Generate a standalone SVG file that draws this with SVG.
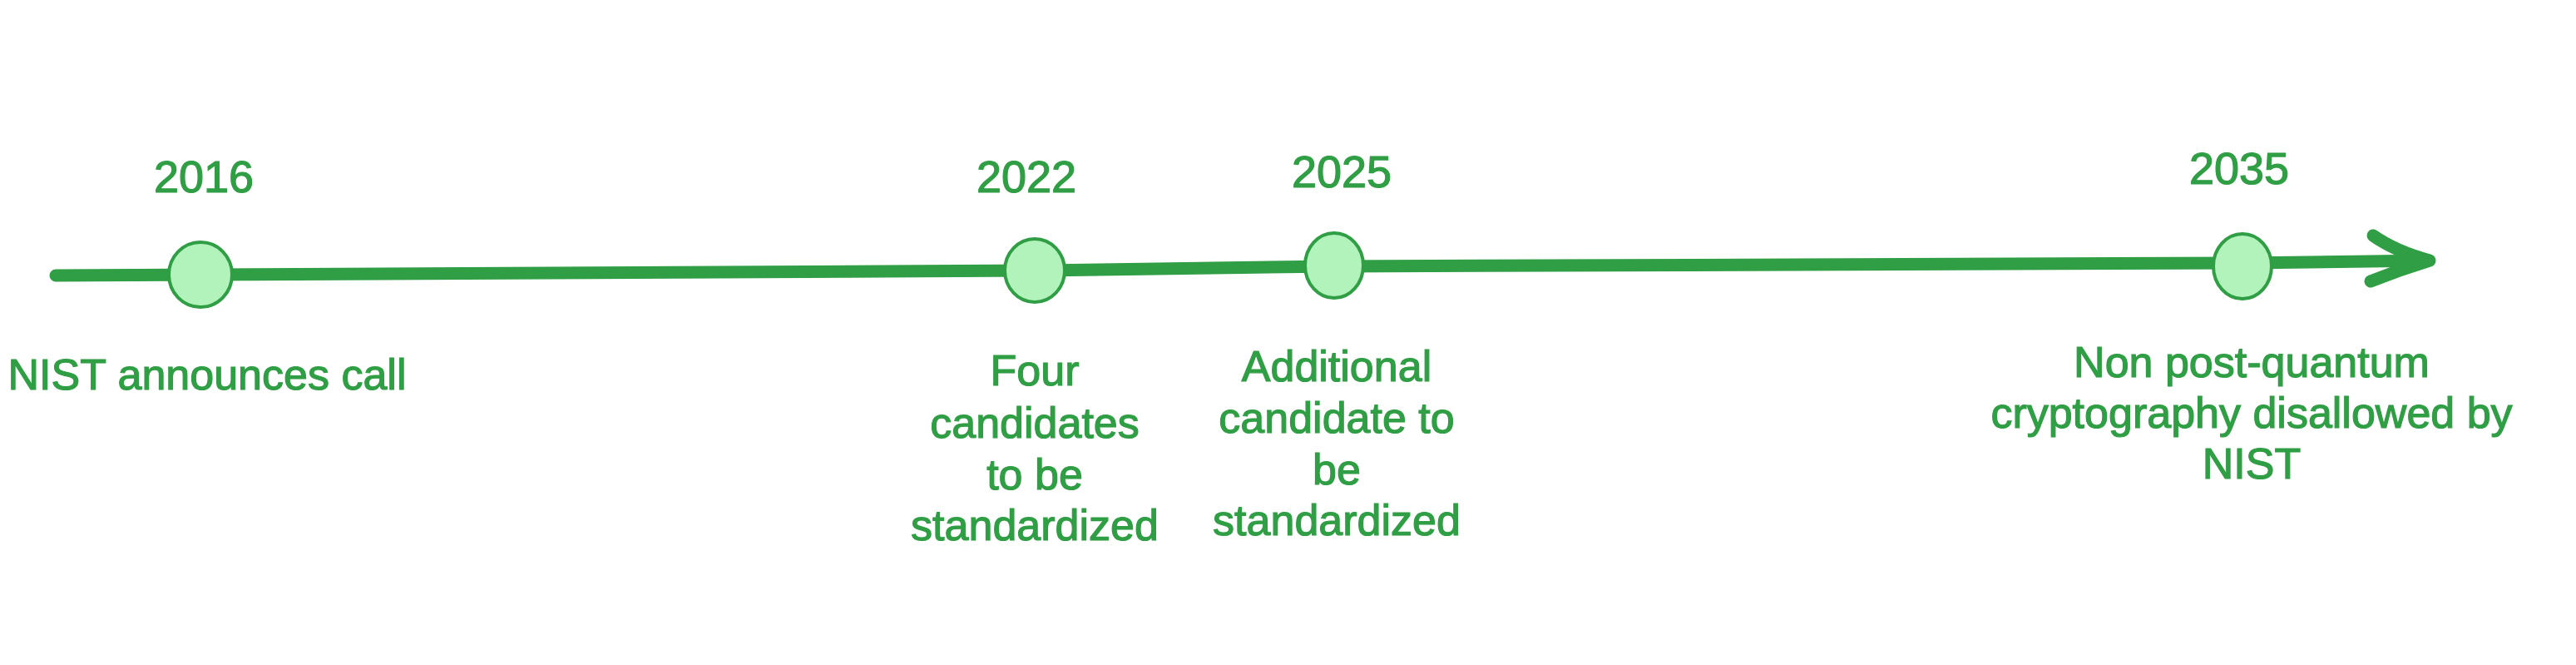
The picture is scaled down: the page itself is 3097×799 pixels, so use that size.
<svg xmlns="http://www.w3.org/2000/svg" width="3097" height="799" viewBox="0 0 3097 799">
  <style>
    .lbl { font-family: "Liberation Sans", Arial, sans-serif; font-size: 52px; fill: #2f9e44; stroke: #2f9e44; stroke-width: 1.2; text-anchor: middle; }
    .yr { font-family: "Liberation Sans", Arial, sans-serif; font-size: 54px; fill: #2f9e44; stroke: #2f9e44; stroke-width: 1.2; text-anchor: middle; }
    .dot { fill: #b2f2bb; stroke: #2f9e44; stroke-width: 4; }
    .axis { fill: none; stroke: #2f9e44; stroke-width: 15; stroke-linecap: round; stroke-linejoin: round; }
  </style>
  <rect x="0" y="0" width="3097" height="799" fill="#ffffff"/>
  <g id="connectors">
    <path class="axis" d="M 67 331 L 1244 325 L 1604 320 L 2696 316 L 2920 313"/>
    <path class="axis" d="M 2853 283 Q 2880 302 2921 313 Q 2885 324 2850 338"/>
  </g>
  <g id="node-2016">
    <ellipse class="dot" cx="241" cy="330" rx="38" ry="39"/>
    <text class="yr" x="245" y="231">2016</text>
    <text class="lbl" x="249" y="468">NIST announces call</text>
  </g>
  <g id="node-2022">
    <ellipse class="dot" cx="1244" cy="325" rx="36" ry="38"/>
    <text class="yr" x="1234" y="231">2022</text>
    <text class="lbl" x="1244" y="463">Four</text>
    <text class="lbl" x="1244" y="526">candidates</text>
    <text class="lbl" x="1244" y="588">to be</text>
    <text class="lbl" x="1244" y="649">standardized</text>
  </g>
  <g id="node-2025">
    <ellipse class="dot" cx="1604" cy="319" rx="35" ry="39"/>
    <text class="yr" x="1613" y="225">2025</text>
    <text class="lbl" x="1607" y="458">Additional</text>
    <text class="lbl" x="1607" y="520">candidate to</text>
    <text class="lbl" x="1607" y="582">be</text>
    <text class="lbl" x="1607" y="643">standardized</text>
  </g>
  <g id="node-2035">
    <ellipse class="dot" cx="2696" cy="320" rx="35" ry="39"/>
    <text class="yr" x="2692" y="221">2035</text>
    <text class="lbl" x="2707" y="453">Non post-quantum</text>
    <text class="lbl" x="2707" y="514">cryptography disallowed by</text>
    <text class="lbl" x="2707" y="575">NIST</text>
  </g>
</svg>
